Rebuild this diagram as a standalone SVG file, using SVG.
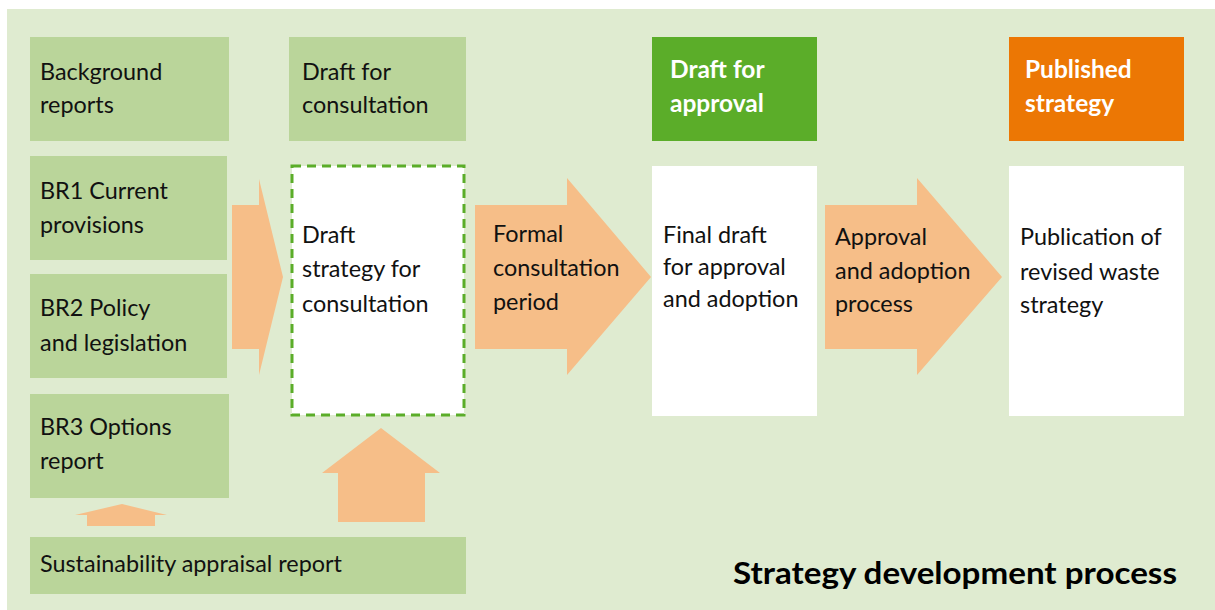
<svg xmlns="http://www.w3.org/2000/svg" width="1215" height="610" viewBox="0 0 1215 610">
<style>
text{font-family:Lato,"Open Sans","Liberation Sans",sans-serif;font-size:23.4px;fill:#111}
.box{fill:#BAD59A}
.white{fill:#FFFFFF}
.arrow{fill:#F6BE88}
.hdr{font-weight:bold;font-size:24.5px;fill:#FFFFFF}
.title{font-weight:bold;font-size:30px;fill:#000}
</style>
<rect x="7" y="9" width="1208" height="601" fill="#DFEBD0"/>
<g id="connectors">
<polygon class="arrow" points="232,205 259,205 259,179 283,277 259,375 259,349 232,349"/>
<polygon class="arrow" points="475,205 567,205 567,178 651,277 567,375 567,349 475,349"/>
<polygon class="arrow" points="825,205 917,205 917,178 1002,277 917,375 917,349 825,349"/>
<polygon class="arrow" points="87,526 87,515 75,515 122,504 167,515 155,515 155,526"/>
<polygon class="arrow" points="338,522 338,473 322,473 381,428 440,473 425,473 425,522"/>
</g>
<g id="background-reports">
<rect class="box" x="30" y="37" width="199" height="104"/>
<text x="40" y="80">Background</text>
<text x="40" y="113">reports</text>
</g>
<g id="draft-for-consultation">
<rect class="box" x="289" y="37" width="177" height="104"/>
<text x="302" y="80">Draft for</text>
<text x="302" y="113">consultation</text>
</g>
<g id="br1">
<rect class="box" x="30" y="156" width="197" height="104"/>
<text x="40" y="199">BR1 Current</text>
<text x="40" y="233">provisions</text>
</g>
<g id="br2">
<rect class="box" x="30" y="274" width="197" height="104"/>
<text x="40" y="316">BR2 Policy</text>
<text x="40" y="351">and legislation</text>
</g>
<g id="br3">
<rect class="box" x="30" y="394" width="199" height="104"/>
<text x="40" y="435">BR3 Options</text>
<text x="40" y="469">report</text>
</g>
<g id="sustainability">
<rect class="box" x="30" y="537" width="436" height="57"/>
<text x="40" y="572">Sustainability appraisal report</text>
</g>
<g id="draft-strategy">
<rect class="white" x="292" y="166" width="172" height="249" stroke="#5BAD29" stroke-width="3" stroke-dasharray="9 6"/>
<text x="302" y="243">Draft</text>
<text x="302" y="277">strategy for</text>
<text x="302" y="312">consultation</text>
</g>
<g id="formal-consultation">
<text x="493" y="242">Formal</text>
<text x="493" y="276">consultation</text>
<text x="493" y="310">period</text>
</g>
<g id="draft-for-approval">
<rect x="652" y="37" width="165" height="104" fill="#5BAD29"/>
<text class="hdr" x="670" y="78">Draft for</text>
<text class="hdr" x="670" y="112">approval</text>
</g>
<g id="final-draft">
<rect class="white" x="652" y="166" width="165" height="250"/>
<text x="663" y="243">Final draft</text>
<text x="663" y="275">for approval</text>
<text x="663" y="307">and adoption</text>
</g>
<g id="approval-process">
<text x="835" y="245">Approval</text>
<text x="835" y="279">and adoption</text>
<text x="835" y="312">process</text>
</g>
<g id="published-strategy">
<rect x="1009" y="37" width="175" height="104" fill="#EC7704"/>
<text class="hdr" x="1025" y="78">Published</text>
<text class="hdr" x="1025" y="112">strategy</text>
</g>
<g id="publication">
<rect class="white" x="1009" y="166" width="175" height="250"/>
<text x="1020" y="245">Publication of</text>
<text x="1020" y="280">revised waste</text>
<text x="1020" y="313">strategy</text>
</g>
<g id="title">
<text class="title" x="733" y="584" textLength="444" lengthAdjust="spacingAndGlyphs">Strategy development process</text>
</g>
</svg>
